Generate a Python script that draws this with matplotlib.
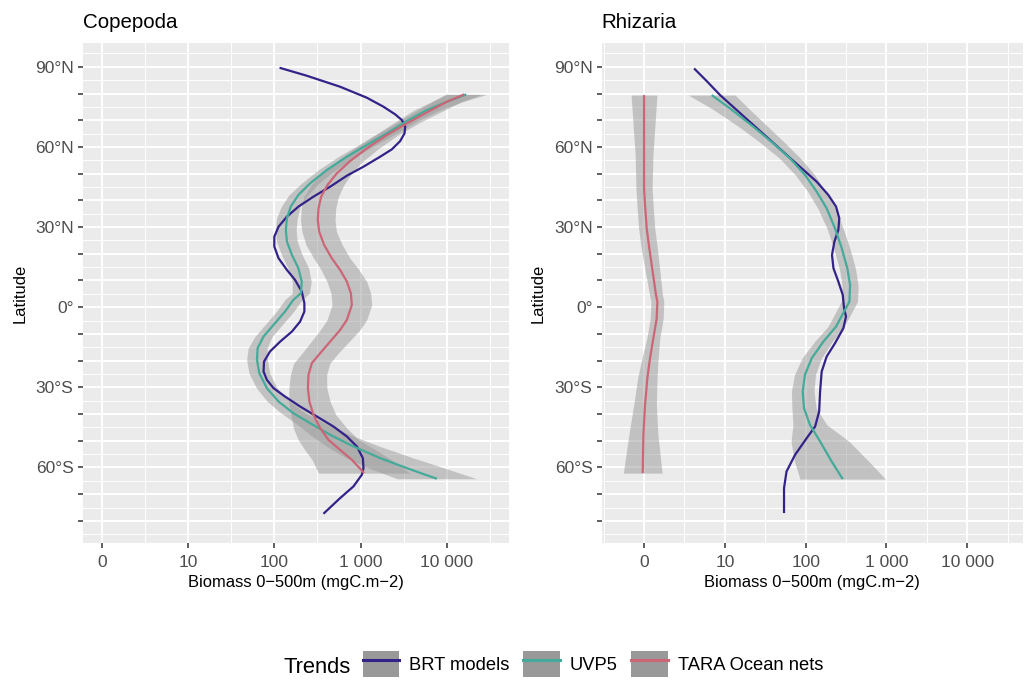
import numpy as np
import matplotlib
matplotlib.use("Agg")
import matplotlib.pyplot as plt
from matplotlib.patches import Patch
from matplotlib.lines import Line2D
from matplotlib.legend_handler import HandlerTuple

plt.rcParams["font.family"] = ["Liberation Sans", "DejaVu Sans"]

SOURCES = ["BRT models", "UVP5", "TARA Ocean nets"]
COLORS = ["#332288", "#44AA99", "#CC6677"]

# Smoothed biomass trends (mgC.m-2) against latitude.
# *_spr is the half width of the confidence band, in decades of the axis scale.

# ---- Copepoda ----
cop_brt_lat = [89.65, 86.66, 82.54, 78.43, 75.06, 72.19, 70.07, 67.58, 65.08, 62.22, 59.1,
               56.35, 52.61, 49.24, 45.13, 41.39, 37.65, 33.91, 30.16, 26.42, 22.68, 18.32,
               13.95, 10.21, 5.85, 1.49, -1.63, -5.38, -9.12, -12.86, -16.6, -20.34, -24.08,
               -27.2, -30.32, -33.44, -37.18, -40.92, -44.66, -48.4, -52.14, -56.5, -60.25,
               -62.74, -67.1, -71.47, -77.33]
cop_brt_val = [115, 238, 579, 1181, 1841, 2518, 3008, 3289, 3228, 2877, 2301,
               1686, 1080, 693, 444, 284, 190, 140, 112, 100, 100, 112,
               140, 174, 208, 223, 223, 199, 160, 117, 89, 76, 75,
               82, 98, 133, 199, 311, 484, 693, 905, 1062, 1080,
               1033, 826, 579, 371]

cop_uvp_lat = [79.68, 76.93, 73.81, 69.7, 65.08, 60.72, 56.35, 51.37, 46.38, 42.01, 37.65,
               33.29, 28.92, 24.56, 19.57, 14.58, 9.59, 5.23, 2.73, -1.63, -6.62, -10.98,
               -15.35, -19.71, -24.7, -30.32, -35.31, -39.67, -43.41, -47.78, -52.14,
               -56.5, -60.25, -64.24]
cop_uvp_val = [16750, 10000, 5866, 3436, 2015, 1181, 693, 406, 260, 190, 155,
               140, 136, 140, 160, 190, 208, 203, 166, 133, 98, 75,
               64, 63, 67, 82, 112, 166, 260, 444, 826,
               1686, 3436, 7656]
cop_uvp_spr = [0.24, 0.18, 0.15, 0.12, 0.11, 0.10, 0.10, 0.10, 0.10, 0.11, 0.11,
               0.12, 0.12, 0.12, 0.12, 0.12, 0.11, 0.10, 0.10, 0.10, 0.10, 0.10,
               0.11, 0.12, 0.12, 0.12, 0.13, 0.14, 0.17, 0.23, 0.31,
               0.39, 0.44, 0.46]

cop_tara_lat = [79.68, 76.93, 72.94, 68.82, 64.46, 59.48, 54.74, 50.12, 45.76, 41.39, 37.03,
                32.66, 28.29, 23.31, 18.32, 13.95, 9.59, 5.23, 0.86, -4.76, -8.5, -12.86,
                -17.22, -20.96, -25.33, -30.32, -35.31, -40.3, -45.28, -49.65, -53.39,
                -57.13, -62.12]
cop_tara_val = [15880, 10000, 5866, 3436, 2015, 1181, 757, 530, 413, 349, 325,
                319, 331, 378, 464, 579, 693, 771, 792, 693, 579, 444,
                340, 272, 249, 245, 255, 284, 340, 424, 579,
                792, 1099]
cop_tara_spr = [0.20, 0.17, 0.15, 0.13, 0.13, 0.14, 0.15, 0.17, 0.19, 0.20, 0.20,
                0.20, 0.20, 0.21, 0.21, 0.22, 0.23, 0.23, 0.23, 0.23, 0.23, 0.22,
                0.21, 0.21, 0.21, 0.22, 0.24, 0.26, 0.31, 0.35, 0.41,
                0.46, 0.53]

# ---- Rhizaria ----
rhi_brt_lat = [89.4, 84.66, 79.42, 73.81, 68.2, 62.59, 56.98, 51.99, 46.99, 42.01, 37.65,
               33.29, 28.92, 24.56, 19.57, 14.58, 9.59, 4.6, -0.39, -3.5, -7.87, -13.48,
               -18.47, -24.08, -31.56, -39.04, -44.66, -49.02, -55.26, -61.49, -67.73,
               -77.08]
rhi_brt_val = [3.92, 5.8, 8.62, 13.96, 22.5, 36.3, 58.3, 89.4, 137, 191, 238,
               261, 254, 227, 212, 221, 254, 288, 299, 316, 293, 231,
               182, 158, 151, 147, 131, 103, 74, 58, 54,
               54]

rhi_uvp_lat = [79.42, 74.44, 67.58, 61.34, 55.74, 49.49, 43.26, 37.03, 29.54, 22.06, 14.58,
               8.34, 2.1, -1.63, -7.24, -12.86, -19.1, -25.33, -31.56, -37.8, -44.03,
               -50.27, -57.75, -64.36]
rhi_uvp_val = [6.73, 11.5, 22.5, 39.8, 64.1, 98.4, 137, 182, 231, 280, 328,
               355, 348, 299, 238, 166, 119, 98, 92, 95.5, 113,
               151, 210, 288]
rhi_uvp_spr = [0.29, 0.23, 0.18, 0.15, 0.13, 0.12, 0.11, 0.11, 0.10, 0.10, 0.10,
               0.10, 0.10, 0.10, 0.10, 0.11, 0.12, 0.13, 0.14, 0.15, 0.21,
               0.36, 0.46, 0.53]

rhi_tara_lat = [79.42, 56.98, 44.5, 38.15, 29.42, 21.94, 13.21, 4.48, 2.11, -4.13, -11.61,
                -19.1, -26.58, -36.56, -47.78, -62.12]
rhi_tara_val = [0, 0, 0, 0.057, 0.152, 0.304, 0.498, 0.698, 0.778, 0.739, 0.536,
                0.343, 0.189, 0.057, -0.037, -0.076]
rhi_tara_spr = [0.16, 0.11, 0.10, 0.10, 0.10, 0.10, 0.09, 0.08, 0.08, 0.08, 0.08,
                0.10, 0.12, 0.14, 0.18, 0.24]

x_ticks = [0, 10, 100, 1000, 10000]
x_tick_labels = ["0", "10", "100", "1 000", "10 000"]


# pseudo-log axis: asinh(x / 2) / ln(10)
def fwd(x):
    return np.arcsinh(np.asarray(x, dtype=float) / 2) / np.log(10)


def inv(t):
    return 2 * np.sinh(np.asarray(t, dtype=float) * np.log(10))


def lat_label(v):
    if v % 30:
        return ""
    if v == 0:
        return "0°"
    return f"{abs(v)}°{'N' if v > 0 else 'S'}"


def draw_panel(ax, title, series, tlim):
    ax.set_facecolor("#EBEBEB")
    ax.set_xscale("function", functions=(fwd, inv))
    for (lat, val, spr), color in zip(series, COLORS):
        if spr is not None:
            t = fwd(val)
            ax.fill_betweenx(lat, inv(t - np.array(spr)), inv(t + np.array(spr)),
                             color="#999999", alpha=0.5, lw=0)
        ax.plot(val, lat, color=color, lw=1.6, solid_capstyle="butt",
                solid_joinstyle="round")

    ax.set_xticks(x_ticks)
    ax.set_xticklabels(x_tick_labels)
    ax.set_xticks(inv(np.arange(-0.5, 5, 1)), minor=True)
    y_major = np.arange(-80, 91, 10)
    ax.set_yticks(y_major)
    ax.set_yticklabels([lat_label(v) for v in y_major])
    ax.set_yticks(np.arange(-85, 96, 10), minor=True)

    ax.set_xlim(inv(tlim[0]), inv(tlim[1]))
    ax.set_ylim(-88.4, 98.8)

    ax.grid(which="major", color="white", lw=1.4)
    ax.grid(which="minor", color="white", lw=0.7)
    ax.set_axisbelow(True)
    for s in ax.spines.values():
        s.set_visible(False)
    ax.tick_params(which="major", length=3.6, width=1.1, color="#333333",
                   labelcolor="#4D4D4D", labelsize=12.5)
    ax.tick_params(axis="x", which="major", pad=5)
    ax.tick_params(axis="y", which="major", pad=3)
    ax.tick_params(which="minor", length=0)

    ax.set_title(title, loc="left", fontsize=14.8, pad=10.8)
    ax.set_xlabel("Biomass 0\u2212500m (mgC.m\u22122)", fontsize=11.9)
    ax.set_ylabel("Latitude", fontsize=11.9)
    ax.xaxis.set_label_coords(0.5, -0.064)


fig = plt.figure(figsize=(10.24, 6.8), dpi=100)
ax1 = fig.add_axes([0.0808, 0.2010, 0.4163, 0.7353])
ax2 = fig.add_axes([0.5876, 0.2010, 0.4114, 0.7353])

draw_panel(ax1, "Copepoda",
           [(cop_brt_lat, cop_brt_val, None),
            (cop_uvp_lat, cop_uvp_val, cop_uvp_spr),
            (cop_tara_lat, cop_tara_val, cop_tara_spr)],
           (-0.22, 4.72))
ax1.yaxis.set_label_coords(-0.129, 0.5)

draw_panel(ax2, "Rhizaria",
           [(rhi_brt_lat, rhi_brt_val, None),
            (rhi_uvp_lat, rhi_uvp_val, rhi_uvp_spr),
            (rhi_tara_lat, rhi_tara_val, rhi_tara_spr)],
           (-0.524, 4.69))
ax2.yaxis.set_label_coords(-0.133, 0.5)

# legend along the bottom
handles = [(Patch(facecolor="#999999", edgecolor="none"), Line2D([], [], color=c, lw=2.2))
           for c in COLORS]
fig.legend(handles, SOURCES, handler_map={tuple: HandlerTuple(ndivide=1)},
           loc="center left", bbox_to_anchor=(0.3542, 0.0235), ncol=3, frameon=False,
           fontsize=13.2, handlelength=2.0, handleheight=1.8, handletextpad=0.55,
           columnspacing=0.72, borderpad=0, borderaxespad=0)
fig.text(283.3 / 1024, 0.0107, "Trends", fontsize=15.8, va="baseline")

fig.savefig("out.png", dpi=100)
